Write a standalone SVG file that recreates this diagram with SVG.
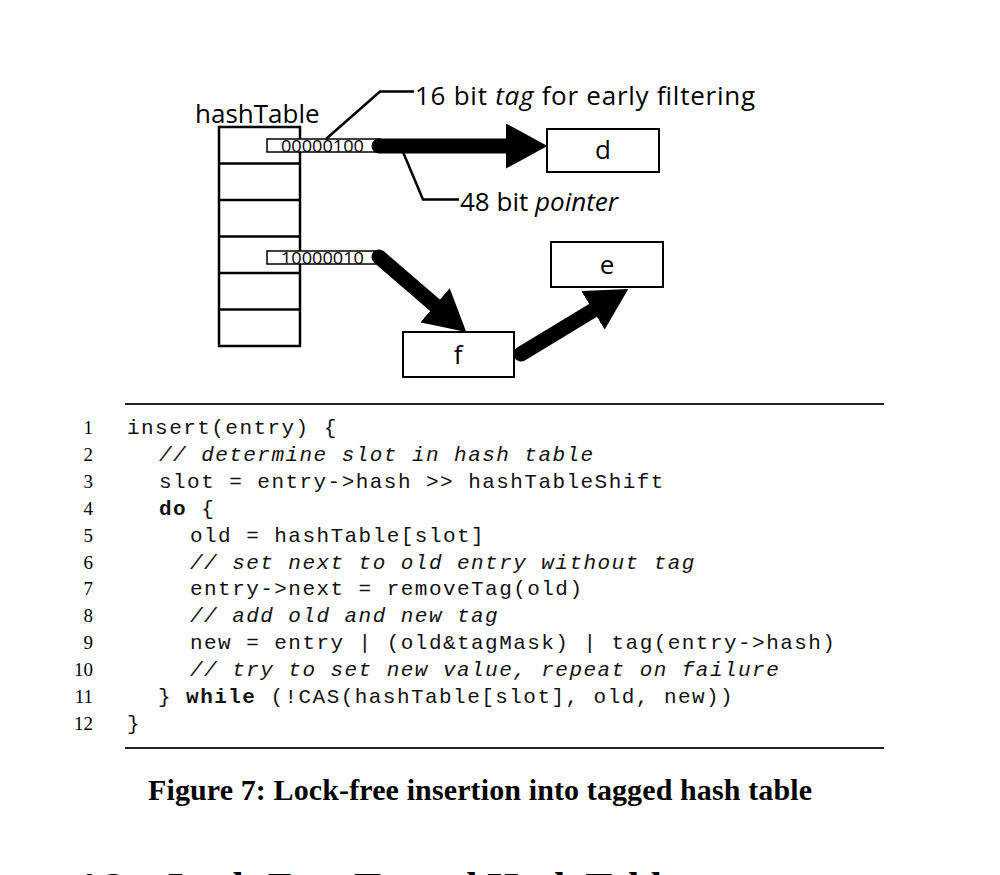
<svg xmlns="http://www.w3.org/2000/svg" width="1000" height="875" viewBox="0 0 1000 875">
<style>
.lbl{font-family:"Open Sans","Liberation Sans",sans-serif;font-size:26px;fill:#000}
.box{fill:#fff;stroke:#000;stroke-width:2}
.slot{fill:#fff;stroke:#000;stroke-width:1.5}
.bits{font-family:"Open Sans","Liberation Sans",sans-serif;font-size:17px;fill:#000}
.ptr{fill:none;stroke:#000;stroke-width:15;stroke-linecap:round}
.lead{fill:none;stroke:#000;stroke-width:2.5}
.code{font-family:"Liberation Mono",monospace;font-size:21px;letter-spacing:1.45px;fill:#111;white-space:pre}
.cm{font-style:italic}
.kw{font-weight:bold}
.num{font-family:"Liberation Serif",serif;font-size:19px;fill:#000;text-anchor:end}
.rule{stroke:#222;stroke-width:2}
.cap{font-family:"Liberation Serif",serif;font-weight:bold;fill:#000}
</style>
<defs>
<marker id="ah" viewBox="0 -1.5 2.75 3" refX="0" refY="0" markerWidth="2.75" markerHeight="3" orient="auto" markerUnits="strokeWidth">
<path d="M0,-1.5 L2.75,0 L0,1.5 z" fill="#000"/>
</marker>
</defs>
<rect width="1000" height="875" fill="#fff"/>

<g id="node-hashTable">
<text class="lbl" x="195" y="123">hashTable</text>
<rect x="219" y="127" width="81" height="219" fill="#fff" stroke="#000" stroke-width="2.5"/>
<g stroke="#000" stroke-width="2.5">
<line x1="219" y1="163.5" x2="300" y2="163.5"/>
<line x1="219" y1="200" x2="300" y2="200"/>
<line x1="219" y1="236.5" x2="300" y2="236.5"/>
<line x1="219" y1="273" x2="300" y2="273"/>
<line x1="219" y1="309.5" x2="300" y2="309.5"/>
</g>
<rect class="slot" x="267" y="139" width="113" height="13"/>
<text class="bits" x="281" y="152" textLength="83" lengthAdjust="spacingAndGlyphs">00000100</text>
<rect class="slot" x="267" y="251" width="113" height="13"/>
<text class="bits" x="281" y="264" textLength="83" lengthAdjust="spacingAndGlyphs">10000010</text>
</g>

<g id="node-d">
<rect class="box" x="547" y="129" width="112" height="43"/>
<text class="lbl" x="603" y="159" text-anchor="middle">d</text>
</g>
<g id="node-e">
<rect class="box" x="551" y="242" width="112" height="45"/>
<text class="lbl" x="607" y="274" text-anchor="middle">e</text>
</g>
<g id="node-f">
<rect class="box" x="403" y="332" width="111" height="45"/>
<text class="lbl" x="458" y="364" text-anchor="middle">f</text>
</g>

<g id="connectors">
<path class="ptr" d="M379,146 L506,146" marker-end="url(#ah)"/>
<path class="ptr" d="M379,257 L435,305.2" marker-end="url(#ah)"/>
<path class="ptr" d="M521,354 L593,310.3" marker-end="url(#ah)"/>
<polyline class="lead" points="326,139 380,91.5 414,91.5"/>
<polyline class="lead" points="403,152 423,199.5 459,199.5"/>
</g>

<g id="annotations">
<text class="lbl" x="415" y="105" font-size="27" textLength="340">16 bit <tspan font-style="italic">tag</tspan> for early filtering</text>
<text class="lbl" x="460" y="211">48 bit <tspan font-style="italic">pointer</tspan></text>
</g>

<g id="code">
<line class="rule" x1="125" y1="404" x2="884" y2="404"/>
<text class="num" x="93" y="434">1</text>
<text class="num" x="93" y="460.9">2</text>
<text class="num" x="93" y="487.8">3</text>
<text class="num" x="93" y="514.7">4</text>
<text class="num" x="93" y="541.6">5</text>
<text class="num" x="93" y="568.5">6</text>
<text class="num" x="93" y="595.4">7</text>
<text class="num" x="93" y="622.3">8</text>
<text class="num" x="93" y="649.2">9</text>
<text class="num" x="93" y="676.1">10</text>
<text class="num" x="93" y="703">11</text>
<text class="num" x="93" y="729.9">12</text>
<text class="code" x="127" y="434">insert(entry) {</text>
<text class="code cm" x="159" y="460.9">// determine slot in hash table</text>
<text class="code" x="159" y="487.8">slot = entry-&gt;hash &gt;&gt; hashTableShift</text>
<text class="code" x="159" y="514.7"><tspan class="kw">do</tspan> {</text>
<text class="code" x="190" y="541.6">old = hashTable[slot]</text>
<text class="code cm" x="190" y="568.5">// set next to old entry without tag</text>
<text class="code" x="190" y="595.4">entry-&gt;next = removeTag(old)</text>
<text class="code cm" x="190" y="622.3">// add old and new tag</text>
<text class="code" x="190" y="649.2">new = entry | (old&amp;tagMask) | tag(entry-&gt;hash)</text>
<text class="code cm" x="190" y="676.1">// try to set new value, repeat on failure</text>
<text class="code" x="158" y="703">} <tspan class="kw">while</tspan> (!CAS(hashTable[slot], old, new))</text>
<text class="code" x="127" y="729.9">}</text>
<line class="rule" x1="125" y1="748" x2="884" y2="748"/>
</g>

<g id="caption">
<text class="cap" x="148" y="800" font-size="30" textLength="664">Figure 7: Lock-free insertion into tagged hash table</text>
<text class="cap" x="75" y="900" font-size="40">4.2</text>
<text class="cap" x="168" y="900" font-size="40">Lock-Free Tagged Hash Table</text>
</g>
</svg>
